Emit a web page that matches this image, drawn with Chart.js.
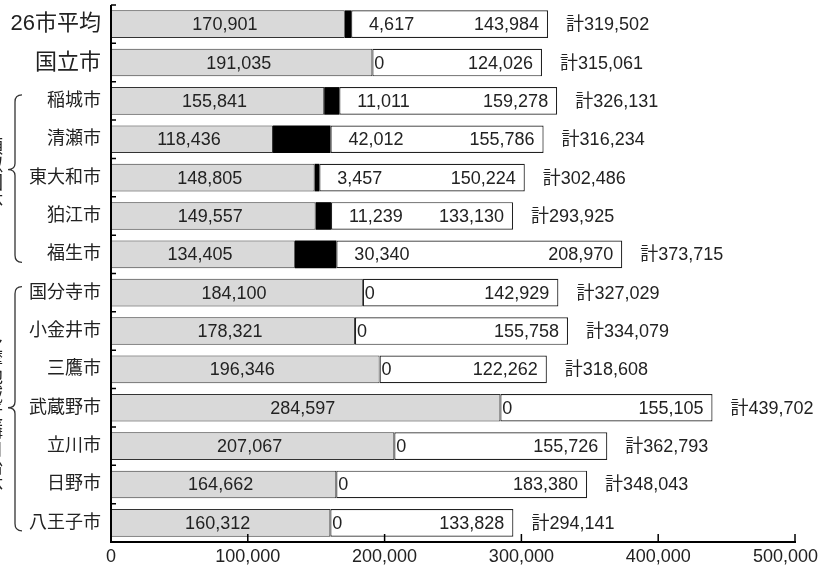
<!DOCTYPE html>
<html><head><meta charset="utf-8">
<script src="https://cdn.jsdelivr.net/npm/chart.js@4"></script>
<style>html,body{margin:0;padding:0;background:#fff;overflow:hidden}#wrap{position:relative;width:819px;height:569px}</style>
</head><body><div id="wrap"><canvas id="c" width="819" height="569"></canvas></div>
<script>
const cities = ['26市平均','国立市','稲城市','清瀬市','東大和市','狛江市','福生市','国分寺市','小金井市','三鷹市','武蔵野市','立川市','日野市','八王子市'];
const grayVals = [170901,191035,155841,118436,148805,149557,134405,184100,178321,196346,284597,207067,164662,160312];
const blackVals = [4617,0,11011,42012,3457,11239,30340,0,0,0,0,0,0,0];
const whiteVals = [143984,124026,159278,155786,150224,133130,208970,142929,155758,122262,155105,155726,183380,133828];
const totals = [319502,315061,326131,316234,302486,293925,373715,327029,334079,318608,439702,362793,348043,294141];
const xTickValues = [0,100000,200000,300000,400000,500000];
const xTickLabels = ['0','100,000','200,000','300,000','400,000','500,000'];
const groupLabels = ['類似団体','多摩地域近隣自治体'];
const groupFrom = [2,7];
const groupTo = [6,13];

const NUM_FONT = '"Liberation Sans", Arial, "Noto Sans CJK JP", sans-serif';
const fmt = v => v.toLocaleString('en-US');

const overlay = {
  id:'overlay',
  afterDatasetsDraw(chart){
    const ctx = chart.ctx, xs = chart.scales.x, ys = chart.scales.y, ca = chart.chartArea;
    ctx.save();
    ctx.font = '18px ' + NUM_FONT;
    ctx.fillStyle = '#222';
    ctx.textBaseline = 'middle';
    for (let i=0;i<cities.length;i++){
      const yc = ys.getPixelForValue(i) + 1;
      const x0 = xs.getPixelForValue(0);
      const xg = xs.getPixelForValue(grayVals[i]);
      const xb = xs.getPixelForValue(grayVals[i]+blackVals[i]);
      const xw = xs.getPixelForValue(grayVals[i]+blackVals[i]+whiteVals[i]);
      ctx.textAlign='center';
      ctx.fillText(fmt(grayVals[i]), (x0+xg)/2 - 3, yc);
      ctx.textAlign='left';
      ctx.fillText(fmt(blackVals[i]), xb + (blackVals[i]===0 ? 2 : 18), yc);
      ctx.textAlign='right';
      ctx.fillText(fmt(whiteVals[i]), xw - 9, yc);
      ctx.textAlign='left';
      ctx.fillText('計' + fmt(totals[i]), xw + 18, yc);
    }
    ctx.strokeStyle = '#000';
    ctx.lineWidth = 2;
    ctx.beginPath();
    ctx.moveTo(ca.left, ca.top); ctx.lineTo(ca.left, ca.bottom);
    ctx.moveTo(ca.left-1, ca.bottom); ctx.lineTo(ca.right+1, ca.bottom);
    ctx.stroke();
    ctx.lineWidth = 1.5;
    ctx.beginPath();
    xTickValues.forEach(v => { const px = xs.getPixelForValue(v); ctx.moveTo(px, ca.bottom); ctx.lineTo(px, ca.bottom-8); });
    const step = ys.getPixelForValue(1)-ys.getPixelForValue(0);
    for (let i=0;i<=cities.length;i++){
      const py = i<cities.length ? ys.getPixelForValue(i) - step/2 : ca.bottom;
      ctx.moveTo(ca.left, py); ctx.lineTo(ca.left+5, py);
    }
    ctx.stroke();
    ctx.font = '18px ' + NUM_FONT;
    ctx.fillStyle = '#222';
    ctx.textAlign = 'center';
    xTickValues.forEach((v,k) => {
      let px = xs.getPixelForValue(v);
      const w = ctx.measureText(xTickLabels[k]).width;
      if (px + w/2 > chart.width - 1) px = chart.width - 1 - w/2;
      ctx.fillText(xTickLabels[k], px, 557);
    });
    ctx.strokeStyle = '#333';
    ctx.lineWidth = 1.3;
    for (let g=0; g<groupLabels.length; g++){
      const top = ys.getPixelForValue(groupFrom[g]) - 6;
      const bot = ys.getPixelForValue(groupTo[g]) + 8;
      const mid = (ys.getPixelForValue(groupFrom[g]) + ys.getPixelForValue(groupTo[g]))/2 - (g===0?8:0);
      ctx.beginPath();
      ctx.moveTo(22, top);
      ctx.quadraticCurveTo(15, top, 15, top+7);
      ctx.lineTo(15, mid-6);
      ctx.quadraticCurveTo(15, mid, 8, mid);
      ctx.quadraticCurveTo(15, mid, 15, mid+6);
      ctx.lineTo(15, bot-7);
      ctx.quadraticCurveTo(15, bot, 22, bot);
      ctx.stroke();
      const chars = [...groupLabels[g]];
      ctx.font = '18px "Noto Sans CJK JP", sans-serif';
      ctx.fillStyle = '#222';
      ctx.textAlign = 'center';
      const lh = 18;
      const start = mid + 4 - (chars.length*lh)/2 + lh/2;
      chars.forEach((c,j) => ctx.fillText(c, -6, start + j*lh));
    }
    ctx.restore();
  }
};

new Chart(document.getElementById('c'), {
  type:'bar',
  data:{
    labels: cities,
    datasets:[
      {label:'gray', data: grayVals, backgroundColor:'#d9d9d9', borderColor:'#333', borderWidth:1, borderSkipped:false},
      {label:'black', data: blackVals, backgroundColor:'#000', borderColor:'#000', borderWidth:0, borderSkipped:false},
      {label:'white', data: whiteVals, backgroundColor:'#fff', borderColor:'#222', borderWidth:1.2, borderSkipped:false}
    ]
  },
  options:{
    indexAxis:'y',
    responsive:false,
    animation:false,
    layout:{padding:{top:5,right:24,left:0,bottom:0}},
    categoryPercentage:0.72,
    barPercentage:1,
    plugins:{legend:{display:false},tooltip:{enabled:false}},
    scales:{
      x:{stacked:true,min:0,max:500000,ticks:{display:false},grid:{display:false,drawTicks:false},border:{display:false},
         afterFit: s => { s.height = 27; s.paddingLeft = 0; s.paddingRight = 0; }},
      y:{stacked:true,grid:{display:false,drawTicks:false},border:{display:false},
         ticks:{padding:10,color:'#222',font: c => ({size: c.index<2 ? 22 : 18, family:'"Liberation Sans", Arial, "Noto Sans CJK JP", sans-serif'})},
         afterFit: s => { s.width = 111; s.paddingTop = 0; s.paddingBottom = 0; }}
    }
  },
  plugins:[overlay]
});
</script></body></html>
